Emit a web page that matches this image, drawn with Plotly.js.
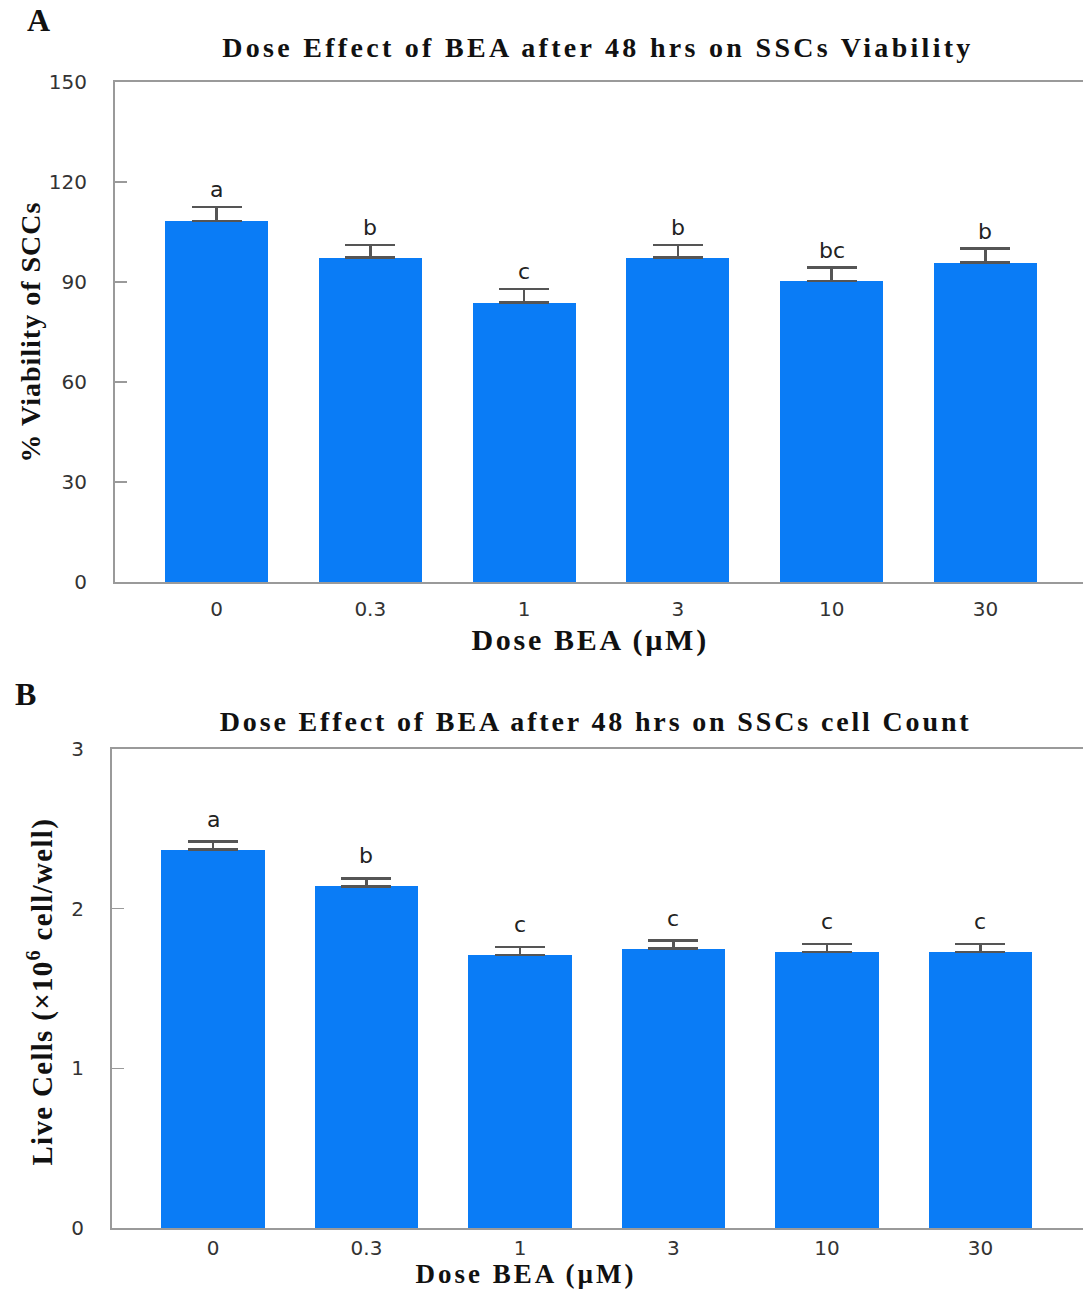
<!DOCTYPE html>
<html>
<head>
<meta charset="utf-8">
<script src="https://cdn.plot.ly/plotly-3.0.1.min.js"></script>
<style>
  html, body { margin: 0; padding: 0; background: #fff; overflow: hidden; }
  #chart { width: 1083px; height: 1292px; }
</style>
</head>
<body>
<div id="chart"></div>
<script>
// Dose groups (µM BEA)
const doses = ['0', '0.3', '1', '3', '10', '30'];

// Panel A: % viability of SSCs after 48 h
const viability = [108.3, 97.3, 83.8, 97.3, 90.3, 95.8];
const viabilityErr = [4.2, 3.8, 4.1, 3.8, 4.0, 4.2];
const viabilityLetters = ['a', 'b', 'c', 'b', 'bc', 'b'];

// Panel B: live cells (x10^6 cell/well) after 48 h
const liveCells = [2.37, 2.14, 1.71, 1.75, 1.73, 1.73];
const liveCellsErr = [0.05, 0.05, 0.05, 0.05, 0.05, 0.05];
const liveCellsLetters = ['a', 'b', 'c', 'c', 'c', 'c'];

// Axis ticks
const viabilityTicks = [0, 30, 60, 90, 120, 150];
const cellTicks = [0, 1, 2, 3];

const W = 1083, H = 1292;
const px = v => v / W;          // pixel -> paper x
const py = v => 1 - v / H;      // pixel -> paper y

const BAR = '#0a7cf6';
const AXIS = '#9a9a9a';
const SERIF = 'Liberation Serif, Times New Roman, serif';
const SANS = 'DejaVu Sans, Arial, sans-serif';

const traces = [
  {
    type: 'bar', x: doses, y: viability, xaxis: 'x', yaxis: 'y',
    width: 0.67, marker: { color: BAR },
    error_y: { type: 'data', symmetric: false, array: viabilityErr,
               arrayminus: viabilityErr.map(() => 0),
               color: '#555', thickness: 2.5, width: 25 },
    hoverinfo: 'x+y'
  },
  {
    type: 'bar', x: doses, y: liveCells, xaxis: 'x2', yaxis: 'y2',
    width: 0.675, marker: { color: BAR },
    error_y: { type: 'data', symmetric: false, array: liveCellsErr,
               arrayminus: liveCellsErr.map(() => 0),
               color: '#555', thickness: 2.5, width: 25 },
    hoverinfo: 'x+y'
  }
];

const tickFont = { family: SANS, size: 20, color: '#333' };

function xAxis(domain, range, anchor, standoff) {
  return {
    type: 'category', domain, range, anchor,
    showline: true, linecolor: AXIS, linewidth: 2, mirror: true,
    ticks: '', showgrid: false, zeroline: false,
    tickfont: tickFont, ticklabelstandoff: standoff, fixedrange: true
  };
}
function yAxis(domain, range, ticks, anchor) {
  return {
    domain, range, anchor, tickmode: 'array', tickvals: ticks,
    showline: true, linecolor: AXIS, linewidth: 2,
    ticks: 'inside', ticklen: 12, tickwidth: 1.5, tickcolor: AXIS,
    showgrid: false, zeroline: false,
    tickfont: tickFont, ticklabelstandoff: 22, fixedrange: true
  };
}

const annotations = [];
const spacing = [];   // letter-spacing (px) per annotation, 0 = none

// significance letters above each error bar (x given as category index)
function addLetters(letters, vals, errs, xref, yref, shift) {
  letters.forEach((t, i) => {
    annotations.push({
      xref, yref, x: i, y: vals[i] + errs[i], text: t,
      showarrow: false, yanchor: 'bottom', yshift: shift,
      font: { family: SANS, size: 22, color: '#222' }
    });
    spacing.push(0);
  });
}
addLetters(viabilityLetters, viability, viabilityErr, 'x', 'y', 3);
addLetters(liveCellsLetters, liveCells, liveCellsErr, 'x2', 'y2', 8);

function label(text, x, y, size, ls, angle) {
  annotations.push({
    xref: 'paper', yref: 'paper', x: px(x), y: py(y), text,
    showarrow: false, xanchor: 'center', yanchor: 'middle',
    textangle: angle || 0, borderpad: 0,
    font: { family: SERIF, size, color: '#111' }
  });
  spacing.push(ls);
}

// panel letters
label('<b>A</b>', 38, 20, 32, 0);
label('<b>B</b>', 25, 694, 32, 0);

// panel titles
label('<b>Dose Effect of BEA after 48 hrs on SSCs Viability</b>', 598, 48, 28, 3.3);
label('<b>Dose Effect of BEA after 48 hrs on SSCs cell Count</b>', 596, 721, 28, 2.85);

// axis titles
label('<b>Dose BEA (µM)</b>', 590, 640, 30, 2.7);
label('<b>Dose BEA (µM)</b>', 526, 1274, 27, 3.0);
label('<b>% Viability of SCCs</b>', 30, 332, 28, 1.0, -90);
label('<b>Live Cells (×10<sup>6</sup> cell/well)</b>', 40, 992, 29, 1.3, -90);

// widen the serif headings a little
const css = spacing.map((s, i) => s ?
  `g.annotation[data-index="${i}"] text { letter-spacing: ${s}px; }` : '').join('\n');
const styleEl = document.createElement('style');
styleEl.textContent = css;
document.head.appendChild(styleEl);

const layout = {
  width: W, height: H,
  margin: { l: 0, r: 0, t: 0, b: 0 },
  paper_bgcolor: '#fff', plot_bgcolor: '#fff',
  showlegend: false, bargap: 0,
  xaxis: xAxis([px(115), 1], [-0.66, 5.634], 'y', 8),
  yaxis: yAxis([py(582), py(82)], [0, 150], viabilityTicks, 'x'),
  xaxis2: xAxis([px(112), 1], [-0.658, 5.668], 'y2', 1),
  yaxis2: yAxis([py(1228), py(749)], [0, 3], cellTicks, 'x2'),
  annotations
};

Plotly.newPlot('chart', traces, layout, { displayModeBar: false, staticPlot: true });
</script>
</body>
</html>
